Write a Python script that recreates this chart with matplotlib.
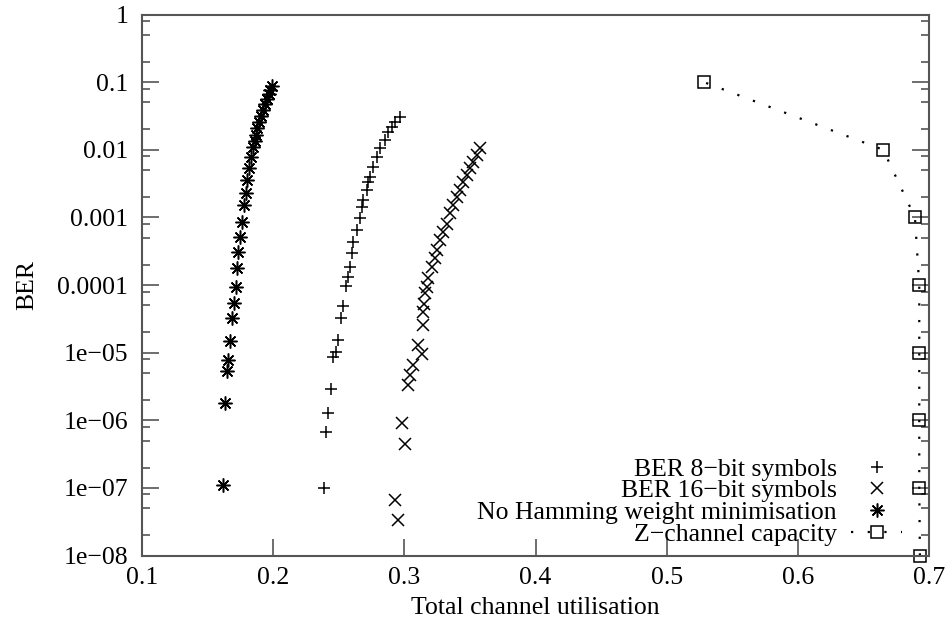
import matplotlib
matplotlib.use('Agg')
import matplotlib.pyplot as plt
from matplotlib.ticker import FixedLocator, LogLocator, FuncFormatter, NullFormatter

plt.rcParams['font.family'] = ['Liberation Serif', 'DejaVu Serif']
plt.rcParams['font.size'] = 18.5

# BER 8-bit symbols
util_8bit = [0.2387, 0.2402, 0.242, 0.2441, 0.2458, 0.2479, 0.2497, 0.2518, 0.2535, 0.2555,
             0.2573, 0.2585, 0.2598, 0.261, 0.2636, 0.2662, 0.2674, 0.2687, 0.2713, 0.2723,
             0.2738, 0.2763, 0.2789, 0.2814, 0.2852, 0.2877, 0.2903, 0.2928, 0.2967]
ber_8bit = [1.01e-7, 6.7e-7, 1.26e-6, 2.86e-6, 8.5e-6, 1.03e-5, 1.53e-5, 3.2e-5, 4.9e-5, 9.6e-5,
            1.32e-4, 1.86e-4, 2.93e-4, 4.35e-4, 6.5e-4, 9.7e-4, 1.44e-3, 1.8e-3, 2.54e-3, 3.37e-3,
            3.99e-3, 5.6e-3, 7.9e-3, 0.0105, 0.0139, 0.0183, 0.0217, 0.0257, 0.0308]

# BER 16-bit symbols
util_16bit = [0.2928, 0.2953, 0.2979, 0.3005, 0.3030, 0.3043, 0.3068, 0.3107, 0.3132, 0.3145,
              0.3140, 0.3150, 0.3158, 0.3171, 0.3183, 0.3209, 0.3234, 0.3247, 0.3272, 0.3297,
              0.3323, 0.3348, 0.3373, 0.3399, 0.3424, 0.3449, 0.3475, 0.35, 0.3525, 0.3551, 0.3576]
ber_16bit = [6.6e-8, 3.4e-8, 9.0e-7, 4.4e-7, 3.3e-6, 4.6e-6, 6.5e-6, 1.3e-5, 9.7e-6, 2.55e-5,
             4.0e-5, 5.3e-5, 7.5e-5, 9.4e-5, 1.25e-4, 1.86e-4, 2.47e-4, 3.28e-4, 4.6e-4, 6.1e-4,
             8.1e-4, 1.15e-3, 1.52e-3, 2.02e-3, 2.54e-3, 3.37e-3, 4.2e-3, 5.3e-3, 6.6e-3, 8.4e-3, 0.0105]

# no Hamming weight minimisation
util_nohw = [0.162, 0.163, 0.1645, 0.1658, 0.167, 0.1684, 0.1701, 0.1714, 0.1727, 0.1735,
             0.1747, 0.1762, 0.1778, 0.1793, 0.1803, 0.1818, 0.1831, 0.1849, 0.1861, 0.1869,
             0.1877, 0.1892, 0.1907, 0.1922, 0.1937, 0.1953, 0.1968, 0.1979, 0.1991]
ber_nohw = [1.1e-7, 1.83e-6, 5.4e-6, 7.9e-6, 1.5e-5, 3.2e-5, 5.5e-5, 9.2e-5, 1.76e-4, 3.1e-4,
            5.2e-4, 8.6e-4, 1.52e-3, 2.26e-3, 3.56e-3, 5.3e-3, 7.9e-3, 0.0111, 0.0134, 0.0165,
            0.021, 0.026, 0.0317, 0.0387, 0.047, 0.056, 0.0665, 0.0775, 0.0875]

# Z-channel capacity
util_z = [0.693, 0.6925, 0.6925, 0.6925, 0.6925, 0.6892, 0.665, 0.5284]
ber_z = [1e-8, 1e-7, 1e-6, 1e-5, 1e-4, 1e-3, 1e-2, 1e-1]

x_ticks = [0.1, 0.2, 0.3, 0.4, 0.5, 0.6, 0.7]
y_ticks = [1e-8, 1e-7, 1e-6, 1e-5, 1e-4, 1e-3, 1e-2, 1e-1, 1]


def ber_label(v, pos):
    # gnuplot style labels
    if v >= 1e-4:
        return ('%g' % v) if v < 1 else '1'
    return ('%.0e' % v).replace('-', '\u2212')


fig = plt.figure(figsize=(9.5, 6.28), dpi=100)
ax = fig.add_axes([0.1495, 0.1154, 0.8285, 0.8615])

ax.plot(util_8bit, ber_8bit, ls='none', marker='+', ms=9, mew=1.1, color='black',
        label='BER 8\u2212bit symbols')
ax.plot(util_16bit, ber_16bit, ls='none', marker='x', ms=8, mew=1.1, color='black',
        label='BER 16\u2212bit symbols')
ax.plot(util_nohw, ber_nohw, ls='none', marker=(8, 2, 0), ms=10, mew=1.1, color='black',
        label='No Hamming weight minimisation')
ax.plot(util_z, ber_z, ls=(0, (1, 6.5)), lw=1.6, marker='s', ms=8, mew=1.1,
        mfc='none', color='black', clip_on=False, label='Z\u2212channel capacity')

ax.set_yscale('log')
ax.set_xlim(0.1, 0.7)
ax.set_ylim(1e-8, 1)
ax.xaxis.set_major_locator(FixedLocator(x_ticks))
ax.set_xticklabels(['%g' % t for t in x_ticks])
ax.yaxis.set_major_locator(FixedLocator(y_ticks))
ax.yaxis.set_major_formatter(FuncFormatter(ber_label))
ax.yaxis.set_minor_locator(LogLocator(base=10, subs=[2, 5, 8], numticks=20))
ax.yaxis.set_minor_formatter(NullFormatter())

for s in ax.spines.values():
    s.set_color('#555555')
    s.set_linewidth(1.5)
ax.tick_params(axis='both', which='both', direction='in', color='#555555', width=1.2)
ax.tick_params(axis='both', which='major', length=12, pad=10)
ax.tick_params(axis='y', which='minor', length=6)
ax.tick_params(axis='y', which='both', right=True)
ax.tick_params(axis='x', pad=8)

ax.set_xlabel('Total channel utilisation', labelpad=6)
ax.set_ylabel('BER', labelpad=14)

ax.legend(loc='lower right', bbox_to_anchor=(0.966, 0.018), frameon=False,
          markerfirst=False, handlelength=2.0, handletextpad=0.55,
          labelspacing=-0.05, borderpad=0, borderaxespad=0, fontsize=18.5)

fig.savefig('out.png', dpi=100)
